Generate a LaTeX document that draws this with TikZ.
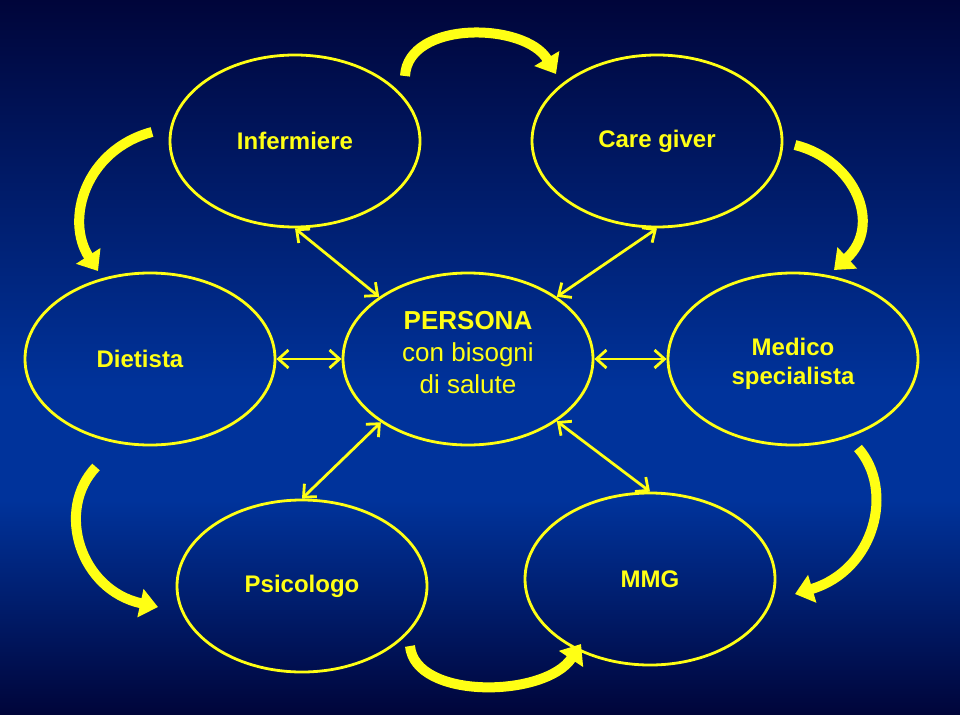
\documentclass[tikz,border=0pt]{standalone}
\usepackage{fontspec}
\setmainfont{Liberation Sans}
\usepackage{xcolor}
\usetikzlibrary{shapes.geometric, arrows.meta, positioning, calc}
\definecolor{bgtop}{RGB}{0,5,58}
\definecolor{bgmid}{RGB}{0,51,155}
\definecolor{ylw}{RGB}{255,255,20}
\tikzset{
  role/.style={
    ellipse, draw=ylw, line width=2.8pt, minimum width=250pt,
    minimum height=172pt, inner sep=0pt, text=ylw, align=center,
    font=\fontsize{24}{29}\selectfont\bfseries
  },
  link/.style={draw=ylw, line width=2.8pt,
    {Straight Barb[length=10pt,width=18pt]}-{Straight Barb[length=10pt,width=18pt]}},
  turn/.style={draw=ylw, line width=10pt, -{Triangle[length=18pt,width=28pt]}}
}

\begin{document}
\begin{tikzpicture}[x=1pt, y=-1pt]
  \useasboundingbox (0,0) rectangle (960,714);
  \shade[top color=bgtop, bottom color=bgmid] (0,0) rectangle (960,390);
  \fill[bgmid] (0,389.5) rectangle (960,500.5);
  \shade[top color=bgmid, bottom color=bgtop] (0,500) rectangle (960,714);

  % the team round the person
  \node[role] (inf)  at (295,141) {Infermiere};
  \node[role] (cg)   at (657,141) {Care giver};
  \node[role] (diet) at (150,359) {Dietista\hspace*{20pt}};
  \node[role, font=\fontsize{26}{32}\selectfont] (pers) at (468,359)
    {\textbf{PERSONA}\\con bisogni\\di salute\rule[-13pt]{0pt}{0pt}};
  \node[role] (med)  at (793,359) {\rule{0pt}{27pt}Medico\\specialista};
  \node[role] (psic) at (302,586) {Psicologo};
  \node[role] (mmg)  at (650,579) {MMG};

  \foreach \f/\t in {inf.south/pers.145, cg.south/pers.35, diet.east/pers.west,
                     pers.east/med.west, pers.216/psic.north, pers.-35/mmg.north}
    \draw[link] (\f) -- (\t);

  % curved arrows going round
  \coordinate (a1) at (405,76);  \coordinate (b1) at (556,74);
  \coordinate (a2) at (152,132); \coordinate (b2) at (98,271);
  \coordinate (a3) at (795,145); \coordinate (b3) at (834,270);
  \coordinate (a4) at (96,467);  \coordinate (b4) at (158,607);
  \coordinate (a5) at (410,646); \coordinate (b5) at (581,644);
  \coordinate (a6) at (858,448); \coordinate (b6) at (795,594);

  \draw[turn] (a1) .. controls (408,20) and (525,22) .. (b1);
  \draw[turn] (a2) .. controls (85,150) and (65,220) .. (b2);
  \draw[turn] (a3) .. controls (855,160) and (883,225) .. (b3);
  \draw[turn] (a4) .. controls (55,510) and (80,590) .. (b4);
  \draw[turn] (a5) .. controls (415,700) and (545,698) .. (b5);
  \draw[turn] (a6) .. controls (895,490) and (875,570) .. (b6);
\end{tikzpicture}
\end{document}
